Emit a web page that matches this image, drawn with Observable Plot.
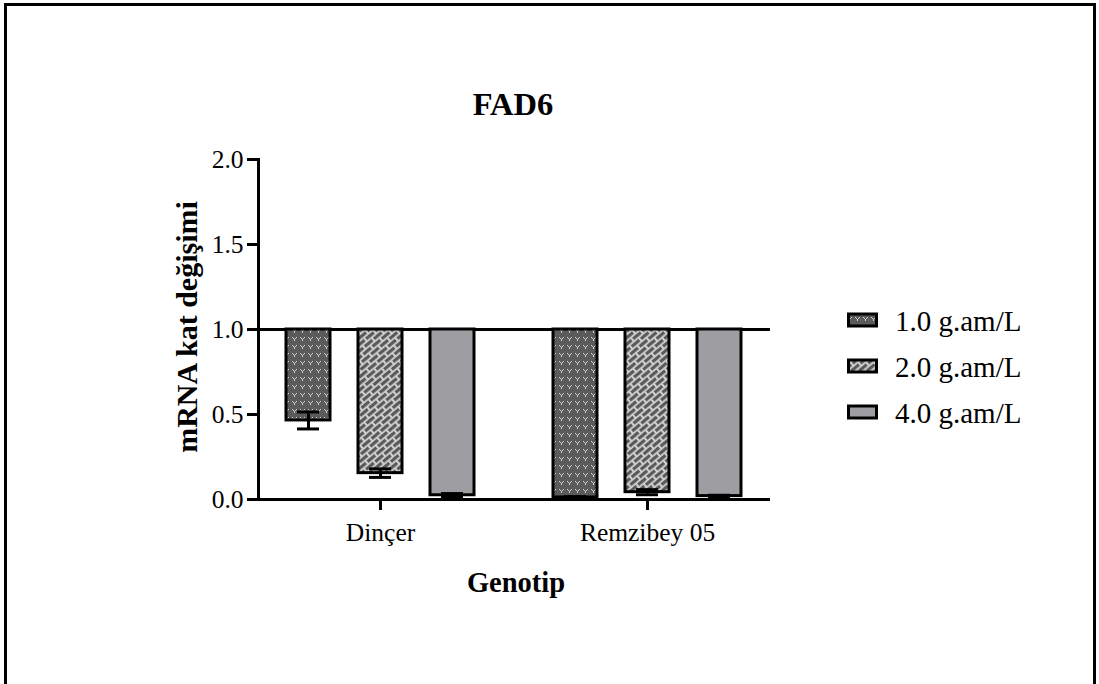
<!DOCTYPE html>
<html>
<head>
<meta charset="utf-8">
<script src="https://cdn.jsdelivr.net/npm/d3@7"></script>
<script src="https://cdn.jsdelivr.net/npm/@observablehq/plot@0.6"></script>
<style>
  html, body { margin: 0; padding: 0; background: #fff; }
  #page { position: relative; width: 1099px; height: 684px; overflow: hidden; font-family: "Liberation Serif", "Times New Roman", serif; color: #000; }
  #border { position: absolute; left: 4px; top: 3px; width: 1092px; height: 720px; border: 3px solid #000; box-sizing: border-box; }
  .layer { position: absolute; left: 0; top: 0; }
  .txt { position: absolute; white-space: nowrap; line-height: 1; }
  #title { font-size: 32.5px; font-weight: bold; left: 513px; top: 88px; transform: translateX(-50%); }
  #xlabel { font-size: 28.5px; font-weight: bold; left: 516px; top: 569px; transform: translateX(-50%); }
  #ylabel { font-size: 30px; font-weight: bold; left: 187px; top: 327px; transform: translate(-50%, -50%) rotate(-90deg); }
  #legend { position: absolute; left: 846px; top: 300px; }
  .item { position: absolute; left: 0; height: 40px; white-space: nowrap; }
  .item svg { position: absolute; left: 0; }
  .item span { position: absolute; left: 49px; font-size: 29px; line-height: 1; }
</style>
</head>
<body>
<svg width="0" height="0" style="position:absolute">
  <defs>
    <pattern id="pat1" width="8" height="8" patternUnits="userSpaceOnUse">
      <rect width="8" height="8" fill="#5b5b5b"/>
      <g fill="#cfcfcf">
        <rect x="1" y="1" width="1" height="1"/>
        <rect x="5" y="1" width="1" height="1"/>
        <rect x="2" y="2" width="1" height="1"/>
        <rect x="4" y="2" width="1" height="1"/>
        <rect x="3" y="3" width="1" height="1"/>
        <rect x="3" y="4" width="1" height="1"/>
      </g>
    </pattern>
    <pattern id="pat2" width="12" height="10" patternUnits="userSpaceOnUse" patternTransform="rotate(-40)">
      <rect width="12" height="10" fill="#d0d0d0"/>
      <g fill="#5a5a5a">
        <rect x="0" y="1" width="10" height="3.2"/>
        <rect x="6" y="6" width="10" height="3.2"/>
        <rect x="-6" y="6" width="10" height="3.2"/>
      </g>
    </pattern>
  </defs>
</svg>
<div id="page">
  <div id="border"></div>
  <div id="axes" class="layer"></div>
  <div id="chart" class="layer"></div>
  <div class="txt" id="title">FAD6</div>
  <div class="txt" id="xlabel">Genotip</div>
  <div class="txt" id="ylabel">mRNA kat değişimi</div>
  <div id="legend"></div>
</div>
<script>
// ---- data ----
const genotypes = ["Dinçer", "Remzibey 05"];
const concentrations = ["1.0 g.am/L", "2.0 g.am/L", "4.0 g.am/L"];
const dincerMeans = [0.465, 0.155, 0.025];
const dincerErrors = [0.05, 0.025, 0.01];
const remzibeyMeans = [0.012, 0.043, 0.02];
const remzibeyErrors = [0.005, 0.015, 0.005];
const yTicks = [0, 0.5, 1.0, 1.5, 2.0];
const yDomain = [0, 2];
const baselineValue = 1.0;
const fills = ["url(#pat1)", "url(#pat2)", "#9e9da2"];

const rows = [];
concentrations.forEach((c, i) => {
  rows.push({genotype: genotypes[0], conc: c, mean: dincerMeans[i], err: dincerErrors[i]});
  rows.push({genotype: genotypes[1], conc: c, mean: remzibeyMeans[i], err: remzibeyErrors[i]});
});

const FONT = "Liberation Serif";
const frameOpts = {
  width: 1099,
  height: 684,
  marginTop: 159,
  marginBottom: 185,
  marginLeft: 258,
  marginRight: 329,
  style: {fontFamily: FONT, fontSize: "25.5px", color: "#000", background: "transparent", overflow: "visible"}
};

// Layer 1: y axis, baseline (1.0) rule and x-axis line (same y scale)
const axesChart = Plot.plot({
  ...frameOpts,
  y: {domain: yDomain},
  marks: [
    Plot.ruleY([0, baselineValue], {stroke: "#000", strokeWidth: 3}),
    Plot.frame({anchor: "left", stroke: "#000", strokeWidth: 3}),
    Plot.axisY({ticks: yTicks, tickFormat: d3.format(".1f"), tickSize: 11, tickPadding: 4, strokeWidth: 3, fontSize: 25.5, label: null})
  ]
});
document.getElementById("axes").appendChild(axesChart);

// Layer 2: grouped bars with error bars
const chart = Plot.plot({
  ...frameOpts,
  y: {domain: yDomain, axis: null},
  x: {domain: concentrations, axis: null, paddingInner: 0.384, paddingOuter: 0},
  fx: {domain: genotypes, paddingInner: 0.287, paddingOuter: 0.099, label: null},
  color: {domain: concentrations, range: fills},
  marks: [
    Plot.barY(rows, {fx: "genotype", x: "conc", y1: baselineValue, y2: "mean", fill: "conc", stroke: "#000", strokeWidth: 3}),
    Plot.ruleX(rows, {fx: "genotype", x: "conc", y1: d => d.mean - d.err, y2: d => d.mean + d.err, stroke: "#000", strokeWidth: 3}),
    Plot.tickY(rows, {fx: "genotype", x: "conc", y: d => d.mean - d.err, insetLeft: 11, insetRight: 11, stroke: "#000", strokeWidth: 3}),
    Plot.tickY(rows, {fx: "genotype", x: "conc", y: d => d.mean + d.err, insetLeft: 11, insetRight: 11, stroke: "#000", strokeWidth: 3}),
    Plot.axisFx({anchor: "bottom", tickSize: 11, tickPadding: 12, strokeWidth: 3, fontSize: 25.5, label: null})
  ]
});
document.getElementById("chart").appendChild(chart);

// legend
const legend = document.getElementById("legend");
const rowGap = 46;
concentrations.forEach((c, i) => {
  const item = document.createElement("div");
  item.className = "item";
  item.style.top = (i * rowGap) + "px";
  item.innerHTML = `<svg width="34" height="40"><rect x="2.5" y="14" width="28" height="12" fill="${fills[i]}" stroke="#000" stroke-width="3"/></svg><span style="top:7px">${c}</span>`;
  legend.appendChild(item);
});
</script>
</body>
</html>
